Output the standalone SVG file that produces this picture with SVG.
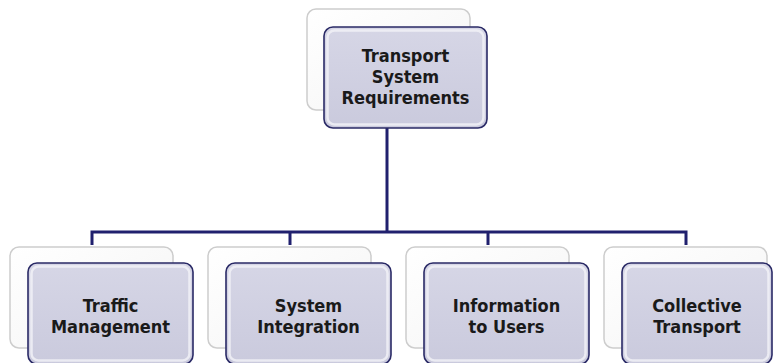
<svg xmlns="http://www.w3.org/2000/svg" width="774" height="363" viewBox="0 0 774 363">
<defs>
<linearGradient id="gFront" x1="0" y1="0" x2="0" y2="1">
<stop offset="0" stop-color="#D6D6E6"/>
<stop offset="1" stop-color="#CACADD"/>
</linearGradient>
<linearGradient id="gBack" x1="0" y1="0" x2="1" y2="1">
<stop offset="0" stop-color="#FFFFFF"/>
<stop offset="0.7" stop-color="#F7F7F7"/>
<stop offset="1" stop-color="#DCDCDC"/>
</linearGradient>
<style>
.back{fill:url(#gBack);stroke:#CDCDCD;stroke-width:1.5}
.front{fill:url(#gFront);stroke:#2A2A66;stroke-width:1.6}
.inner{fill:none;stroke:#F2F2F8;stroke-opacity:0.8;stroke-width:2.5}
.lbl{font-family:"DejaVu Sans Condensed","DejaVu Sans",Verdana,sans-serif;font-weight:bold;font-size:18px;fill:#1A1A1A;text-anchor:middle}
.conn{fill:none;stroke:#20206E;stroke-width:3}
</style>
</defs>
<g id="connectors">
<path class="conn" d="M387 128 V232 M92 245 V232 H686 V245 M290 232 V245 M488 232 V245"/>
</g>
<g id="n-top">
<rect class="back" x="307" y="9" width="163" height="101" rx="9"/>
<rect class="front" x="324" y="27" width="163" height="101" rx="9"/>
<rect class="inner" x="327.5" y="30.5" width="156" height="94" rx="7"/>
<text class="lbl" x="405.5" y="62">Transport</text>
<text class="lbl" x="405.5" y="83">System</text>
<text class="lbl" x="405.5" y="104">Requirements</text>
</g>
<g id="n-traffic">
<rect class="back" x="10" y="247" width="163" height="101" rx="9"/>
<rect class="front" x="28" y="263" width="165" height="101" rx="9"/>
<rect class="inner" x="31.5" y="266.5" width="158" height="94" rx="7"/>
<text class="lbl" x="110.5" y="311.5">Traffic</text>
<text class="lbl" x="110.5" y="332.5">Management</text>
</g>
<g id="n-system">
<rect class="back" x="208" y="247" width="163" height="101" rx="9"/>
<rect class="front" x="226" y="263" width="165" height="101" rx="9"/>
<rect class="inner" x="229.5" y="266.5" width="158" height="94" rx="7"/>
<text class="lbl" x="308.5" y="311.5">System</text>
<text class="lbl" x="308.5" y="332.5">Integration</text>
</g>
<g id="n-info">
<rect class="back" x="406" y="247" width="163" height="101" rx="9"/>
<rect class="front" x="424" y="263" width="165" height="101" rx="9"/>
<rect class="inner" x="427.5" y="266.5" width="158" height="94" rx="7"/>
<text class="lbl" x="506.5" y="311.5">Information</text>
<text class="lbl" x="506.5" y="332.5">to Users</text>
</g>
<g id="n-collective">
<rect class="back" x="604" y="247" width="163" height="101" rx="9"/>
<rect class="front" x="622" y="263" width="150" height="101" rx="9"/>
<rect class="inner" x="625.5" y="266.5" width="143" height="94" rx="7"/>
<text class="lbl" x="697" y="311.5">Collective</text>
<text class="lbl" x="697" y="332.5">Transport</text>
</g>
</svg>
